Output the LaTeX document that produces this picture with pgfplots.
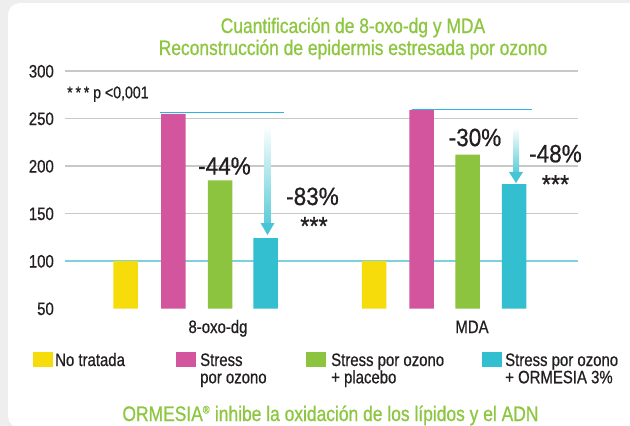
\documentclass[border=0pt]{standalone}
\usepackage{fontspec}
\setmainfont{Liberation Sans}[FakeStretch=0.83, FakeBold=0.7]
\newfontfamily\bigfont{Liberation Sans}[FakeStretch=0.9, FakeBold=0.7]
\usepackage{pgfplots}
\pgfplotsset{compat=1.18}
\definecolor{cYel}{HTML}{F6DC0B}
\definecolor{cPink}{HTML}{D2559D}
\definecolor{cGreen}{HTML}{8CC43F}
\definecolor{cCyan}{HTML}{33BFCF}
\definecolor{cTitle}{HTML}{8DC63F}
\definecolor{cText}{HTML}{231F20}
\definecolor{cGrid}{HTML}{C8C8C8}
\definecolor{cBase}{HTML}{7DD0DC}
\definecolor{cRef}{HTML}{2DB4E2}
\definecolor{cCard}{HTML}{EEEEEE}
\begin{document}
\begin{tikzpicture}
\useasboundingbox (0pt,0pt) rectangle (630pt,-426pt);
\fill[cCard] (0pt,0pt) rectangle (630pt,-426pt);
\fill[white, rounded corners=12pt] (8pt,-3pt) rectangle (700pt,-428pt);
% titles
\node[anchor=base, text=cTitle, inner sep=0pt, font=\fontsize{21}{21}\selectfont] at (353pt,-33pt) {Cuantificación de 8-oxo-dg y MDA};
\node[anchor=base, text=cTitle, inner sep=0pt, font=\fontsize{21}{21}\selectfont] at (353pt,-55pt) {Reconstrucción de epidermis estresada por ozono};
\begin{axis}[
  at={(65pt,-308.5pt)}, anchor=south west, scale only axis,
  width=513pt, height=237.5pt,
  xmin=65, xmax=578, ymin=50, ymax=300,
  axis line style={draw=none}, major tick length=0pt,
  xtick=\empty, ytick={50,100,...,300},
  /pgf/number format/assume math mode=true,
  yticklabel style={font=\fontsize{18}{18}\selectfont, text=cText, anchor=base east, inner sep=0pt, xshift=-11pt, yshift=-6.5pt},
  clip mode=individual,
]
% grid lines
\draw[cGrid, line width=1.1pt] (axis cs:65,300) -- (axis cs:578,300);
\draw[cGrid, line width=1.1pt] (axis cs:65,250) -- (axis cs:578,250);
\draw[cGrid, line width=1.1pt] (axis cs:65,200) -- (axis cs:578,200);
\draw[cGrid, line width=1.1pt] (axis cs:65,150) -- (axis cs:578,150);
\draw[cBase, line width=1.2pt] (axis cs:65,100) -- (axis cs:578,100);
% bars: 8-oxo-dg then MDA
\addplot[ybar, bar shift=0pt, bar width=24.5pt, fill=cYel, draw=none] coordinates {(125.5,100) (374.2,100)};
\addplot[ybar, bar shift=0pt, bar width=24.5pt, fill=cPink, draw=none] coordinates {(173.3,255) (421.5,259)};
\addplot[ybar, bar shift=0pt, bar width=24.5pt, fill=cGreen, draw=none] coordinates {(220.2,185) (467.5,212)};
\addplot[ybar, bar shift=0pt, bar width=24.5pt, fill=cCyan, draw=none] coordinates {(265.5,124) (514.2,181)};
% reference lines
\draw[cRef, line width=1.2pt] (axis cs:160,256) -- (axis cs:284.3,256);
\draw[cRef, line width=1.2pt] (axis cs:411.7,259.5) -- (axis cs:531.7,259.5);
% arrows
\shade[top color=white, bottom color=cCyan!80] (axis cs:264.5,243) rectangle (axis cs:270.5,139.5);
\fill[cCyan!90] (axis cs:260.5,140) -- (axis cs:274.5,140) -- (axis cs:267.5,127.4) -- cycle;
\shade[top color=white, bottom color=cCyan!80] (axis cs:513,241) rectangle (axis cs:519,193.2);
\fill[cCyan!90] (axis cs:509,193.7) -- (axis cs:523,193.7) -- (axis cs:516,182) -- cycle;
% annotations
\node[text=cText, inner sep=0pt, font=\bigfont\fontsize{25}{25}\selectfont] at (axis cs:224.5,200) {-44\%};
\node[text=cText, inner sep=0pt, font=\bigfont\fontsize{25}{25}\selectfont] at (axis cs:312.5,168) {-83\%};
\node[text=cText, inner sep=0pt, anchor=north, font=\bigfont\fontsize{26}{26}\selectfont] at (axis cs:314,146.5) {***};
\node[text=cText, inner sep=0pt, font=\bigfont\fontsize{25}{25}\selectfont] at (axis cs:475,230) {-30\%};
\node[text=cText, inner sep=0pt, font=\bigfont\fontsize{25}{25}\selectfont] at (axis cs:555.5,213) {-48\%};
\node[text=cText, inner sep=0pt, anchor=north, font=\bigfont\fontsize{26}{26}\selectfont] at (axis cs:555.5,190.5) {***};
\end{axis}
\node[anchor=base west, text=cText, inner sep=0pt, font=\fontsize{17}{17}\selectfont] at (67pt,-98.3pt) {*\,*\,* p <0,001};
% group labels
\node[anchor=base, text=cText, inner sep=0pt, font=\fontsize{18}{18}\selectfont] at (218pt,-333pt) {8-oxo-dg};
\node[anchor=base, text=cText, inner sep=0pt, font=\fontsize{18}{18}\selectfont] at (472pt,-333pt) {MDA};
% legend
\fill[cYel] (33pt,-352pt) rectangle (53pt,-367pt);
\node[anchor=base west, text=cText, inner sep=0pt, font=\fontsize{18}{18}\selectfont] at (55pt,-366pt) {No tratada};
\fill[cPink] (176pt,-352pt) rectangle (196pt,-367pt);
\node[anchor=base west, text=cText, inner sep=0pt, font=\fontsize{18}{18}\selectfont] at (200pt,-366pt) {Stress};
\node[anchor=base west, text=cText, inner sep=0pt, font=\fontsize{18}{18}\selectfont] at (200pt,-383.3pt) {por ozono};
\fill[cGreen] (306pt,-352pt) rectangle (326pt,-367pt);
\node[anchor=base west, text=cText, inner sep=0pt, font=\fontsize{18}{18}\selectfont] at (331pt,-366pt) {Stress por ozono};
\node[anchor=base west, text=cText, inner sep=0pt, font=\fontsize{18}{18}\selectfont] at (331pt,-383.3pt) {+ placebo};
\fill[cCyan] (482pt,-352pt) rectangle (502pt,-367pt);
\node[anchor=base west, text=cText, inner sep=0pt, font=\fontsize{18}{18}\selectfont] at (505pt,-366pt) {Stress por ozono};
\node[anchor=base west, text=cText, inner sep=0pt, font=\fontsize{18}{18}\selectfont] at (505pt,-383.3pt) {+ ORMESIA 3\%};
% bottom line
\node[anchor=base, text=cTitle, inner sep=0pt, font=\fontsize{21}{21}\selectfont] at (330.5pt,-421pt) {ORMESIA\textsuperscript{\fontsize{11}{11}\selectfont ®} inhibe la oxidación de los lípidos y el ADN};
\end{tikzpicture}
\end{document}
